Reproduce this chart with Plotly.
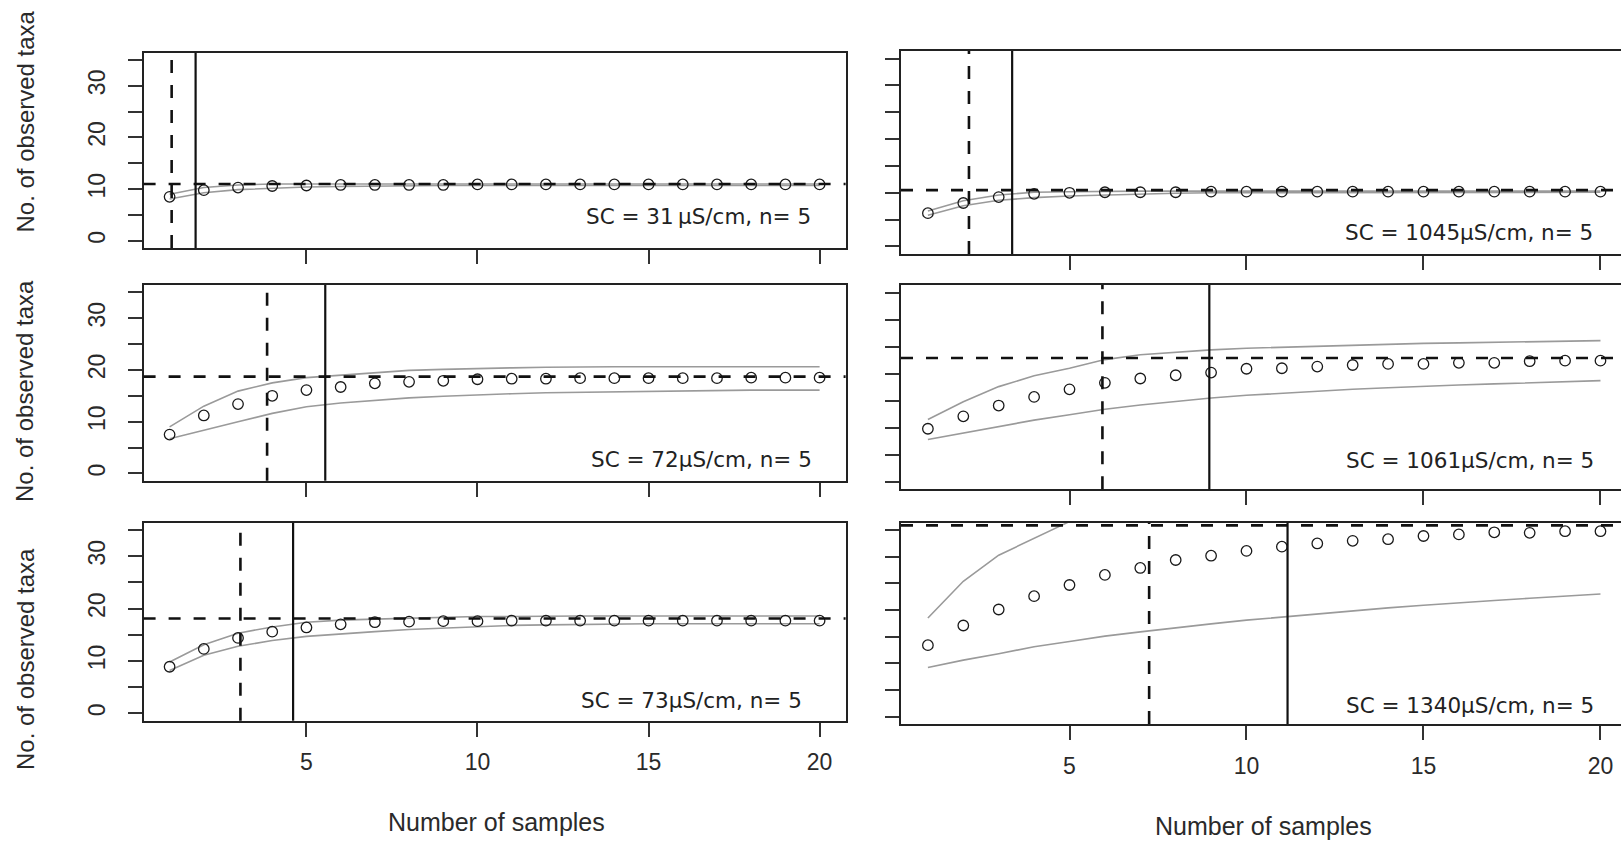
import plotly.graph_objects as go

W, H = 1621, 865

# ---------------- data ----------------
samples = list(range(1, 21))

panel_labels = ["SC = 31\u2009µS/cm, n= 5", "SC = 1045µS/cm, n= 5",
                "SC = 72µS/cm, n= 5", "SC = 1061µS/cm, n= 5",
                "SC = 73µS/cm, n= 5", "SC = 1340µS/cm, n= 5"]

obs_31 = [8.5, 9.8, 10.3, 10.6, 10.7, 10.8, 10.8, 10.8, 10.8, 10.9,
          10.9, 10.9, 10.9, 10.9, 10.9, 10.9, 10.9, 10.9, 10.9, 10.9]
upr_31 = [9.0, 10.3, 10.8, 11.0, 11.0, 11.0, 11.0, 11.0, 11.0, 11.0,
          11.0, 11.0, 11.0, 11.0, 11.0, 11.0, 11.0, 11.0, 11.0, 11.0]
lwr_31 = [8.1, 9.3, 9.9, 10.2, 10.4, 10.5, 10.6, 10.6, 10.7, 10.7,
          10.7, 10.7, 10.7, 10.7, 10.7, 10.7, 10.7, 10.7, 10.7, 10.7]

obs_1045 = [6.2, 8.1, 9.2, 9.8, 10.0, 10.1, 10.1, 10.1, 10.2, 10.2,
            10.2, 10.2, 10.2, 10.2, 10.2, 10.2, 10.2, 10.2, 10.2, 10.2]
upr_1045 = [6.6, 8.5, 9.6, 10.1, 10.2, 10.3, 10.3, 10.3, 10.3, 10.3,
            10.3, 10.3, 10.3, 10.3, 10.3, 10.3, 10.3, 10.3, 10.3, 10.3]
lwr_1045 = [5.8, 7.6, 8.6, 9.1, 9.4, 9.6, 9.8, 9.9, 10.0, 10.0,
            10.1, 10.1, 10.1, 10.1, 10.1, 10.1, 10.1, 10.1, 10.1, 10.1]

obs_72 = [7.5, 11.2, 13.4, 15.0, 16.1, 16.7, 17.4, 17.7, 17.9, 18.2,
          18.3, 18.3, 18.4, 18.4, 18.4, 18.4, 18.4, 18.5, 18.5, 18.5]
upr_72 = [9.0, 13.0, 15.9, 17.5, 18.5, 19.0, 19.5, 19.9, 20.1, 20.3,
          20.4, 20.5, 20.6, 20.6, 20.6, 20.6, 20.6, 20.6, 20.6, 20.6]
lwr_72 = [6.7, 8.4, 10.0, 11.6, 12.9, 13.6, 14.1, 14.6, 14.9, 15.2,
          15.4, 15.6, 15.7, 15.8, 15.9, 16.0, 16.0, 16.1, 16.1, 16.1]

obs_1061 = [9.8, 12.1, 14.1, 15.7, 17.1, 18.3, 19.1, 19.7, 20.2, 20.9,
            21.0, 21.3, 21.6, 21.8, 21.8, 22.0, 22.0, 22.3, 22.4, 22.4]
upr_1061 = [11.5, 14.8, 17.6, 19.6, 21.0, 22.6, 23.5, 24.0, 24.4, 24.7,
            24.9, 25.1, 25.3, 25.5, 25.6, 25.7, 25.8, 25.9, 26.0, 26.1]
lwr_1061 = [7.8, 9.0, 10.3, 11.4, 12.4, 13.4, 14.2, 14.9, 15.5, 16.0,
            16.4, 16.8, 17.1, 17.4, 17.7, 17.9, 18.1, 18.3, 18.5, 18.7]

obs_73 = [8.9, 12.3, 14.4, 15.6, 16.4, 17.0, 17.4, 17.5, 17.6, 17.6,
          17.7, 17.7, 17.7, 17.7, 17.7, 17.7, 17.7, 17.7, 17.7, 17.7]
upr_73 = [9.8, 13.1, 15.3, 16.5, 17.4, 17.8, 18.0, 18.2, 18.4, 18.5,
          18.5, 18.6, 18.6, 18.6, 18.6, 18.6, 18.6, 18.6, 18.6, 18.6]
lwr_73 = [8.2, 11.1, 12.8, 13.9, 14.7, 15.2, 15.6, 16.0, 16.3, 16.6,
          16.8, 16.9, 17.0, 17.0, 17.1, 17.1, 17.1, 17.1, 17.1, 17.1]

obs_1340 = [13.4, 17.1, 20.1, 22.6, 24.7, 26.6, 27.9, 29.4, 30.2, 31.1,
            31.9, 32.5, 33.0, 33.3, 33.9, 34.2, 34.6, 34.5, 34.8, 34.8]
upr_1340 = [18.5, 25.4, 30.3, 33.5, 36.6, 38.6, 40.0, 41.0, 41.8, 42.5,
            43.1, 43.6, 44.1, 44.5, 44.9, 45.2, 45.5, 45.8, 46.0, 46.2]
lwr_1340 = [9.2, 10.6, 11.8, 13.1, 14.1, 15.1, 15.9, 16.7, 17.4, 18.1,
            18.7, 19.3, 19.9, 20.4, 20.9, 21.4, 21.8, 22.2, 22.6, 23.0]

# estimated richness (horizontal dashed) and sample thresholds (vertical dashed / solid)
est_richness = [11.0, 10.5, 18.7, 22.9, 18.1, 35.9]
thr_dashed = [1.06, 2.16, 3.85, 5.93, 3.07, 7.25]
thr_solid = [1.76, 3.38, 5.55, 8.95, 4.61, 11.16]

observed = [obs_31, obs_1045, obs_72, obs_1061, obs_73, obs_1340]
upper = [upr_31, upr_1045, upr_72, upr_1061, upr_73, upr_1340]
lower = [lwr_31, lwr_1045, lwr_72, lwr_1061, lwr_73, lwr_1340]

y_tickvals = [0, 5, 10, 15, 20, 25, 30, 35]
y_ticktext = ["0", "", "10", "", "20", "", "30", ""]
x_tickvals = [5, 10, 15, 20]
x_ticktext = ["5", "10", "15", "20"]

# ---------------- layout geometry (pixels) ----------------
# (left, right, top, bottom) of each plot box
boxes = [(143.6, 845.6, 52.7, 248.0), (901.0, 1621.0, 51.0, 254.0),
         (143.6, 845.6, 285.0, 480.7), (901.0, 1621.0, 285.0, 489.3),
         (143.6, 845.6, 522.7, 720.7), (901.0, 1621.0, 522.7, 724.0)]
xranges = [[0.24, 20.76], [0.24, 20.58]] * 3
yrange = [-1.4, 36.4]
label_pos = [(813, 217), (1595, 233), (814, 459.5), (1596, 460.5), (804, 700), (1596, 705)]

TXT = "#2a2a2a"
tick_font = dict(family="Liberation Sans, Arial, sans-serif", size=23, color=TXT)

fig = go.Figure()
shapes = []
annotations = []

for i in range(6):
    ax = "" if i == 0 else str(i + 1)
    xa, ya = "x" + ax, "y" + ax
    left_col = (i % 2 == 0)
    bottom_row = (i >= 4)
    l, r, t, b = boxes[i]

    for series in (upper[i], lower[i]):
        fig.add_trace(go.Scatter(x=samples, y=series, mode="lines", xaxis=xa, yaxis=ya,
                                 line=dict(color="#9a9a9a", width=1.6), showlegend=False,
                                 hoverinfo="skip"))
    fig.add_trace(go.Scatter(x=samples, y=observed[i], mode="markers", xaxis=xa, yaxis=ya,
                             marker=dict(symbol="circle-open", size=10.5, color="#1a1a1a",
                                         line=dict(width=1.3, color="#1a1a1a")),
                             showlegend=False, cliponaxis=True))

    xkey = "xaxis" + ax
    ykey = "yaxis" + ax
    fig.layout[xkey] = dict(
        domain=[l / W, min(r / W, 1.0)], range=xranges[i], anchor=ya,
        showgrid=False, zeroline=False, showline=True, linecolor="#222", linewidth=2,
        mirror=True, ticks="outside", ticklen=14, tickwidth=1.6, tickcolor="#333",
        tickvals=x_tickvals, ticktext=x_ticktext, showticklabels=bottom_row,
        tickfont=tick_font, ticklabelstandoff=6,
    )
    fig.layout[ykey] = dict(
        domain=[1 - b / H, 1 - t / H], range=yrange, anchor=xa,
        showgrid=False, zeroline=False, showline=True, linecolor="#222", linewidth=2,
        mirror=left_col, ticks="outside", ticklen=14, tickwidth=1.6, tickcolor="#333",
        tickvals=y_tickvals, ticktext=y_ticktext, showticklabels=left_col,
        tickangle=-90, tickfont=tick_font, ticklabelstandoff=13,
    )

    # reference lines
    shapes.append(dict(type="line", xref=xa + " domain", yref=ya, x0=0, x1=1,
                       y0=est_richness[i], y1=est_richness[i],
                       line=dict(color="#111", width=2.6, dash="12px,13px")))
    shapes.append(dict(type="line", xref=xa, yref=ya + " domain",
                       x0=thr_dashed[i], x1=thr_dashed[i], y0=0, y1=1,
                       line=dict(color="#111", width=2.6, dash="13px,12px")))
    shapes.append(dict(type="line", xref=xa, yref=ya + " domain",
                       x0=thr_solid[i], x1=thr_solid[i], y0=0, y1=1,
                       line=dict(color="#111", width=2.2)))

    px, py = label_pos[i]
    annotations.append(dict(text=panel_labels[i], xref="paper", yref="paper",
                            x=px / W, y=1 - py / H, xanchor="right", yanchor="middle",
                            showarrow=False,
                            font=dict(family="DejaVu Sans, sans-serif", size=21.5, color="#222")))

# axis titles
title_font = dict(family="Liberation Sans, Arial, sans-serif", size=24, color=TXT)
for cy in (121.5, 391, 659):
    annotations.append(dict(text="No. of observed taxa", xref="paper", yref="paper",
                            x=25 / W, y=1 - cy / H, xanchor="center", yanchor="middle",
                            textangle=-90, showarrow=False, font=title_font))
for cx, cy in ((496, 822), (1263, 826)):
    annotations.append(dict(text="Number of samples", xref="paper", yref="paper",
                            x=cx / W, y=1 - cy / H, xanchor="center", yanchor="middle",
                            showarrow=False, font=dict(family="Liberation Sans, Arial, sans-serif",
                                                       size=25, color=TXT)))

fig.update_layout(width=W, height=H, margin=dict(l=0, r=0, t=0, b=0),
                  paper_bgcolor="white", plot_bgcolor="white",
                  shapes=shapes, annotations=annotations, showlegend=False)

fig.write_html("out.html")
